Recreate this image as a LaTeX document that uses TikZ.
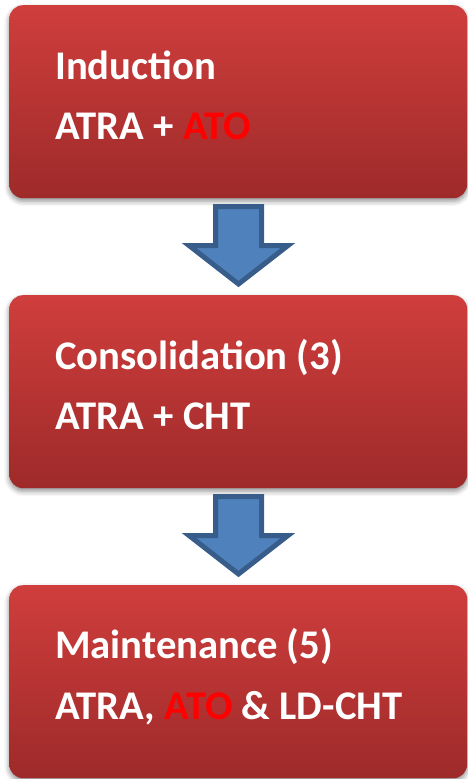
\documentclass[tikz,border=0pt]{standalone}
\usepackage{fontspec}
\setmainfont{Carlito}
\usetikzlibrary{shadows.blur}
\definecolor{boxtop}{RGB}{207,62,60}
\definecolor{boxbot}{RGB}{158,42,42}
\definecolor{arrfill}{RGB}{79,129,189}
\definecolor{arrline}{RGB}{56,93,138}
\definecolor{hired}{RGB}{255,0,0}
\begin{document}
\begin{tikzpicture}[x=1pt,y=-1pt,
  stagebox/.style={draw=none, rounded corners=14pt, top color=boxtop, bottom color=boxbot,
    blur shadow={shadow xshift=0pt, shadow yshift=-3pt, shadow blur radius=5pt, shadow opacity=45},
    minimum width=458pt, minimum height=193pt, inner sep=0pt, anchor=north west},
  stagetext/.style={text=white, font=\bfseries\fontsize{40.7}{48}\selectfont, anchor=base west, inner sep=0pt},
  flowarrow/.style={fill=arrfill, draw=arrline, line width=5pt, line join=miter}]
\useasboundingbox (0,0) rectangle (467,779);

\node[stagebox] (induct) at (9,5) {};
\node[stagebox] (consol) at (9,295) {};
\node[stagebox] (mainten) at (9,585) {};

\node[stagetext] (inductA) at (55,79) {Induction};
\node[stagetext] (inductB) at (55,139) {ATRA + \textcolor{hired}{ATO}};
\node[stagetext] (consolA) at (55,369) {Consolidation (3)};
\node[stagetext] (consolB) at (55,429) {ATRA + CHT};
\node[stagetext] (maintenA) at (55,658) {Maintenance (5)};
\node[stagetext] (maintenB) at (55,719) {ATRA, \textcolor{hired}{ATO} \& LD-CHT};

\foreach \dy in {0,290} {
  \draw[flowarrow] (215.5,206.5+\dy) -- (261.5,206.5+\dy) -- (261.5,245.5+\dy) -- (288,245.5+\dy)
    -- (238.5,284+\dy) -- (189,245.5+\dy) -- (215.5,245.5+\dy) -- cycle;
}
\end{tikzpicture}
\end{document}
